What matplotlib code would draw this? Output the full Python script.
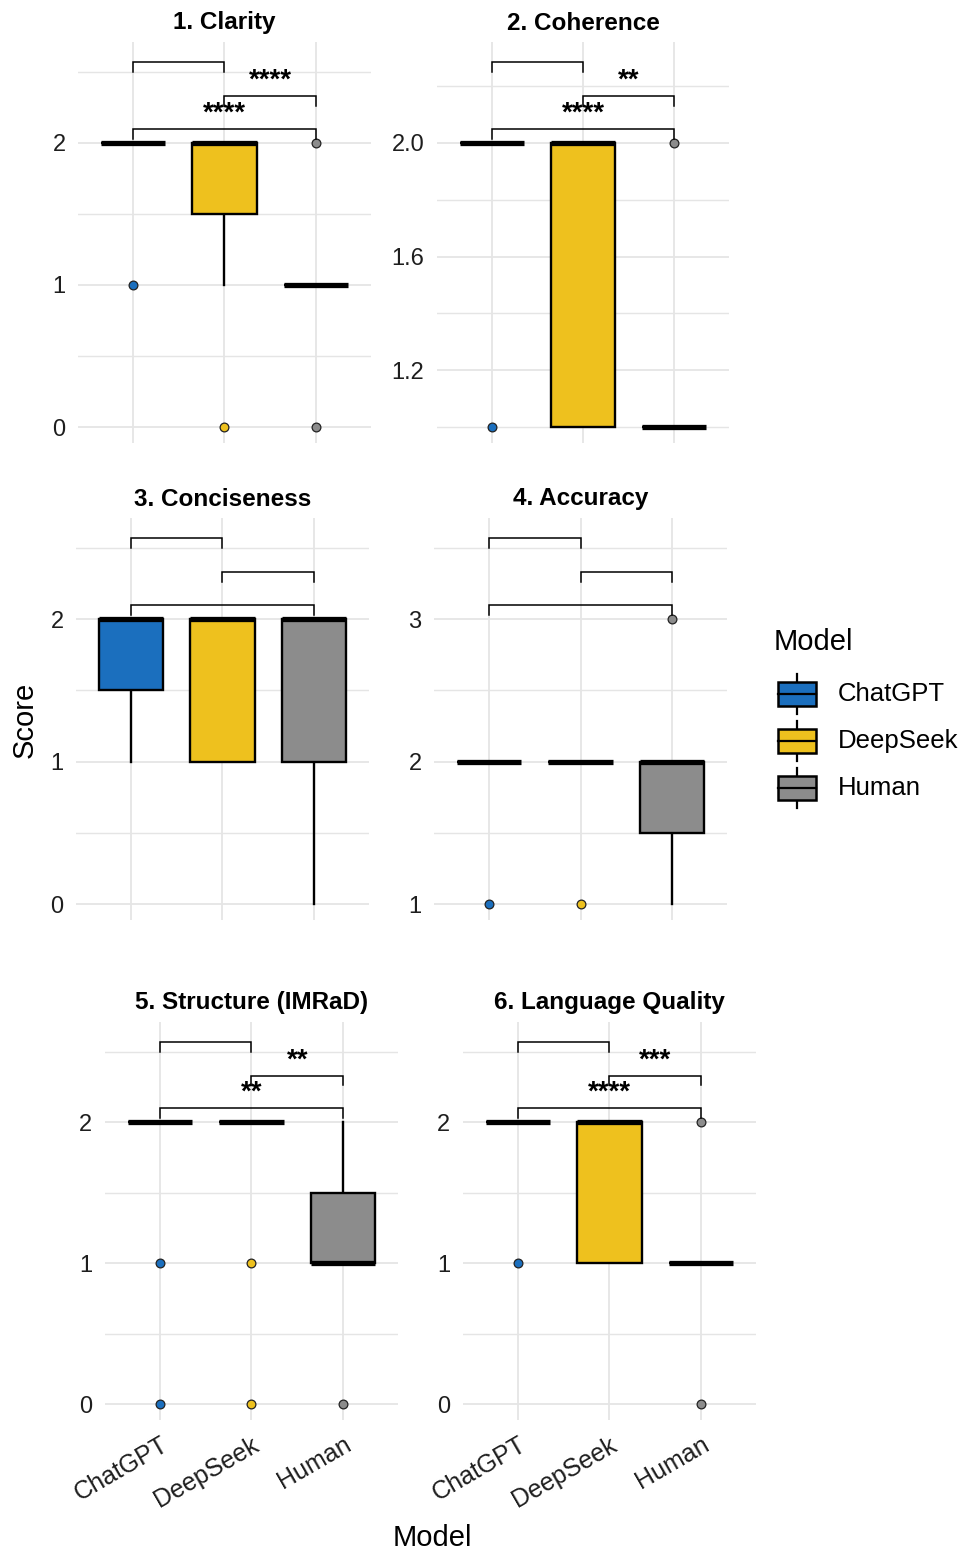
import matplotlib
matplotlib.use("Agg")
import matplotlib.pyplot as plt
from matplotlib.patches import Rectangle
from matplotlib.ticker import FixedLocator, FormatStrFormatter
import numpy as np

plt.rcParams['font.family'] = ['Liberation Sans', 'DejaVu Sans']

# ---------------- data ----------------
models = ["ChatGPT", "DeepSeek", "Human"]
colors = ["#1B6FBE", "#EEC11E", "#8C8C8C"]
titles = ["1. Clarity", "2. Coherence", "3. Conciseness",
          "4. Accuracy", "5. Structure (IMRaD)", "6. Language Quality"]

# box statistics per panel: [ChatGPT, DeepSeek, Human]
clarity_q1 = [2, 1.5, 1]
clarity_med = [2, 2, 1]
clarity_q3 = [2, 2, 1]
clarity_lo = [2, 1, 1]
clarity_hi = [2, 2, 1]
clarity_out = [[1], [0], [2, 0]]

coherence_q1 = [2, 1, 1]
coherence_med = [2, 2, 1]
coherence_q3 = [2, 2, 1]
coherence_lo = [2, 1, 1]
coherence_hi = [2, 2, 1]
coherence_out = [[1], [], [2]]

conciseness_q1 = [1.5, 1, 1]
conciseness_med = [2, 2, 2]
conciseness_q3 = [2, 2, 2]
conciseness_lo = [1, 1, 0]
conciseness_hi = [2, 2, 2]
conciseness_out = [[], [], []]

accuracy_q1 = [2, 2, 1.5]
accuracy_med = [2, 2, 2]
accuracy_q3 = [2, 2, 2]
accuracy_lo = [2, 2, 1]
accuracy_hi = [2, 2, 2]
accuracy_out = [[1], [1], [3]]

structure_q1 = [2, 2, 1]
structure_med = [2, 2, 1]
structure_q3 = [2, 2, 1.5]
structure_lo = [2, 2, 1]
structure_hi = [2, 2, 2]
structure_out = [[1, 0], [1, 0], [0]]

language_q1 = [2, 1, 1]
language_med = [2, 2, 1]
language_q3 = [2, 2, 1]
language_lo = [2, 1, 1]
language_hi = [2, 2, 1]
language_out = [[1], [], [2, 0]]

# significance labels for pairs (ChatGPT-DeepSeek, DeepSeek-Human, ChatGPT-Human)
clarity_sig = ["", "****", "****"]
coherence_sig = ["", "**", "****"]
conciseness_sig = ["", "", ""]
accuracy_sig = ["", "", ""]
structure_sig = ["", "**", "**"]
language_sig = ["", "***", "****"]

# y tick values
clarity_ticks = [0, 1, 2]
coherence_ticks = [1.2, 1.6, 2.0]
conciseness_ticks = [0, 1, 2]
accuracy_ticks = [1, 2, 3]
structure_ticks = [0, 1, 2]
language_ticks = [0, 1, 2]

panels = [
    (clarity_q1, clarity_med, clarity_q3, clarity_lo, clarity_hi, clarity_out, clarity_sig, clarity_ticks),
    (coherence_q1, coherence_med, coherence_q3, coherence_lo, coherence_hi, coherence_out, coherence_sig, coherence_ticks),
    (conciseness_q1, conciseness_med, conciseness_q3, conciseness_lo, conciseness_hi, conciseness_out, conciseness_sig, conciseness_ticks),
    (accuracy_q1, accuracy_med, accuracy_q3, accuracy_lo, accuracy_hi, accuracy_out, accuracy_sig, accuracy_ticks),
    (structure_q1, structure_med, structure_q3, structure_lo, structure_hi, structure_out, structure_sig, structure_ticks),
    (language_q1, language_med, language_q3, language_lo, language_hi, language_out, language_sig, language_ticks),
]

# ---------------- layout ----------------
W, H = 962, 1553
fig = plt.figure(figsize=(W / 100, H / 100), dpi=100)
fig.patch.set_facecolor("white")

# (left, right, top, bottom) in pixels
boxes_px = [
    (78, 371, 42, 443), (437, 729, 42, 443),
    (76, 369, 518, 920), (434, 727, 518, 920),
    (105, 398, 1022, 1420), (463, 756, 1022, 1420),
]

GRID = "#E5E5E5"
TXT = "#1E1E1E"
pairs = [(1, 2), (2, 3), (1, 3)]
bracket_frac = [0.285, 0.165, 0.05]   # top, middle, lower (fraction of data range)

for i, (q1, med, q3, lo, hi, out, sig, ticks) in enumerate(panels):
    l, r, t, b = boxes_px[i]
    ax = fig.add_axes([l / W, 1 - b / H, (r - l) / W, (b - t) / H])
    ax.set_facecolor("white")
    for s in ax.spines.values():
        s.set_visible(False)

    stats = []
    for k in range(3):
        stats.append(dict(q1=q1[k], med=med[k], q3=q3[k], whislo=lo[k],
                          whishi=hi[k], fliers=out[k], label=models[k]))
    bp = ax.bxp(stats, positions=[1, 2, 3], widths=0.7, patch_artist=True,
                showcaps=False,
                boxprops=dict(edgecolor="black", linewidth=1.7),
                whiskerprops=dict(color="black", linewidth=1.7),
                medianprops=dict(color="black", linewidth=3.8, solid_capstyle="butt"),
                flierprops=dict(marker="o", markersize=6.3, markeredgecolor="#222222",
                                markeredgewidth=0.9, linestyle="none"))
    for k, patch in enumerate(bp["boxes"]):
        patch.set_facecolor(colors[k])
        patch.set_zorder(3)
    for k, fl in enumerate(bp["fliers"]):
        fl.set_markerfacecolor(colors[k])
        fl.set_zorder(4)
    for m in bp["medians"]:
        m.set_zorder(5)
    for w_ in bp["whiskers"]:
        w_.set_zorder(2.5)

    allvals = lo + hi + [v for o in out for v in o]
    dmin, dmax = min(allvals), max(allvals)
    rng = dmax - dmin
    ax.set_ylim(dmin - 0.056 * rng, dmax + 0.355 * rng)
    ax.set_xlim(0.4, 3.6)

    # grid
    ax.yaxis.set_major_locator(FixedLocator(ticks))
    step = ticks[1] - ticks[0]
    minors = np.arange(ticks[0] - step / 2, dmax + 0.355 * rng, step)
    ax.yaxis.set_minor_locator(FixedLocator(minors))
    ax.xaxis.set_major_locator(FixedLocator([1, 2, 3]))
    ax.grid(True, which="major", color=GRID, linewidth=1.3, zorder=0)
    ax.grid(True, which="minor", axis="y", color=GRID, linewidth=1.0, zorder=0)
    ax.set_axisbelow(True)
    ax.tick_params(axis="both", which="both", length=0)
    ax.tick_params(axis="y", labelsize=17, labelcolor=TXT, pad=9)
    if any(abs(v - round(v)) > 1e-9 for v in ticks):
        ax.yaxis.set_major_formatter(FormatStrFormatter("%.1f"))
    else:
        ax.yaxis.set_major_formatter(FormatStrFormatter("%d"))

    if i >= 4:
        ax.set_xticks([1, 2, 3])
        ax.set_xticklabels(models, rotation=30, ha="right", va="top",
                           rotation_mode="anchor", fontsize=18, color=TXT)
        ax.tick_params(axis="x", pad=9)
    else:
        ax.set_xticklabels([])

    ax.set_title(titles[i], fontsize=17.5, fontweight="bold", pad=9, color="black")

    # significance brackets
    tip = 0.035 * rng
    for j, (a, bb) in enumerate(pairs):
        yb = dmax + bracket_frac[j] * rng
        ax.plot([a, a, bb, bb], [yb - tip, yb, yb, yb - tip], color="black",
                linewidth=1.1, zorder=6, solid_joinstyle="miter")
        if sig[j]:
            ax.text((a + bb) / 2, yb + 0.03 * rng, sig[j], ha="center", va="baseline",
                    fontsize=20, fontweight="bold", color="black", zorder=7)

# axis titles
fig.text(25 / W, 1 - 720 / H, "Score", rotation=90, ha="center", va="center",
         fontsize=21, color="black")
fig.text(432 / W, 1 - 1538 / H, "Model", ha="center", va="center",
         fontsize=21, color="black")

# legend
lax = fig.add_axes([760 / W, 1 - 820 / H, 200 / W, 200 / H])
lax.set_xlim(760, 960)
lax.set_ylim(820, 620)
lax.axis("off")
lax.text(774, 642, "Model", fontsize=21, va="center", ha="left", color="black")
for k, name in enumerate(models):
    cy = 694 + 47 * k
    lax.plot([797, 797], [cy - 20, cy + 20], color="black", linewidth=1.6, zorder=1)
    lax.add_patch(Rectangle((778, cy - 12), 38, 24, facecolor=colors[k],
                            edgecolor="black", linewidth=1.8, zorder=2))
    lax.plot([778, 816], [cy, cy], color="black", linewidth=1.6, zorder=3)
    lax.text(838, cy, name, fontsize=18.5, va="center", ha="left", color="black")

fig.savefig("out.png", dpi=100, facecolor="white")
